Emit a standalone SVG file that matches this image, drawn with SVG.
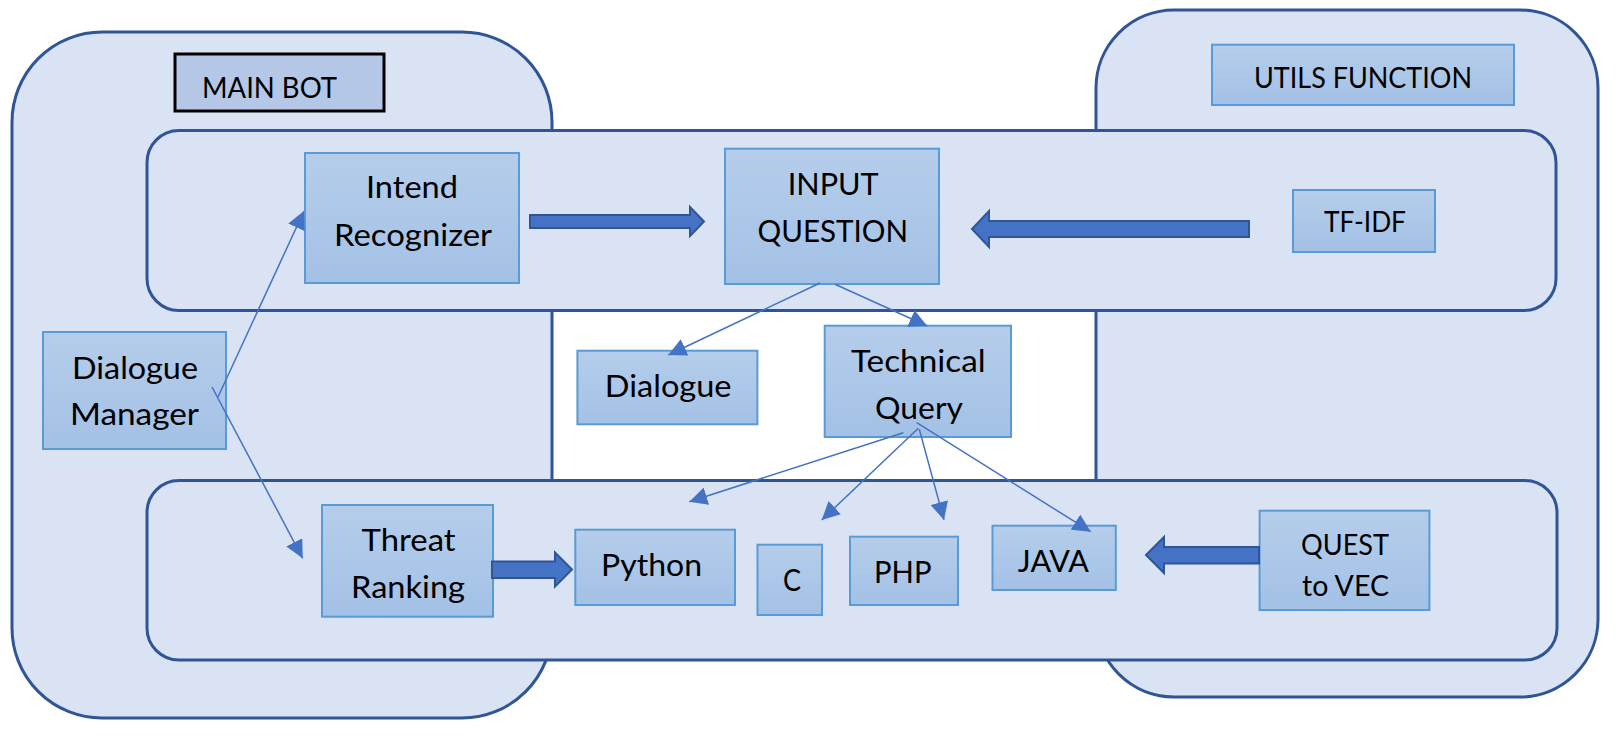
<svg xmlns="http://www.w3.org/2000/svg" width="1624" height="737" viewBox="0 0 1624 737">
<defs>
<linearGradient id="boxfill" x1="0" y1="0" x2="0" y2="1">
<stop offset="0" stop-color="#b5cdea"/>
<stop offset="1" stop-color="#a3c1e6"/>
</linearGradient>
<marker id="tri" markerUnits="userSpaceOnUse" markerWidth="18" markerHeight="18" refX="18" refY="9" orient="auto" viewBox="0 0 18 18">
<path d="M0,0 L18,9 L0,18 z" fill="#4472c4"/>
</marker>
</defs>
<style>
.cont{fill:#dae3f3;stroke:#2f5597;stroke-width:3}
.box{fill:url(#boxfill);stroke:#5b9bd5;stroke-width:2}
.lbl{fill:#000;stroke:#000;stroke-width:3}
.t{font-family:Lato,"Noto Sans",sans-serif;font-size:31.5px;fill:#000}
.ts{font-family:Lato,"Noto Sans",sans-serif;font-size:28.8px;fill:#000}
.ln{stroke:#4472c4;stroke-width:1.5;fill:none;marker-end:url(#tri)}
.big{fill:#4472c4;stroke:#2f5597;stroke-width:2;stroke-linejoin:miter}
</style>
<rect width="1624" height="737" fill="#ffffff"/>
<g id="containers">
<rect id="main-bot-area" class="cont" x="12" y="32" width="540" height="686" rx="90" ry="90"/>
<rect id="utils-area" class="cont" x="1096" y="10" width="502" height="687" rx="78" ry="78"/>
<rect id="top-band" class="cont" x="147" y="130.5" width="1409" height="180" rx="32" ry="32"/>
<rect id="bottom-band" class="cont" x="147" y="480.5" width="1410" height="179.5" rx="32" ry="32"/>
</g>
<g id="main-bot">
<rect x="175" y="54" width="209" height="57" fill="#b4c7e7" stroke="#000" stroke-width="3"/>
<text class="ts" x="202" y="97.7" textLength="135" lengthAdjust="spacingAndGlyphs">MAIN BOT</text>
</g>
<g id="utils-function">
<rect class="box" x="1212" y="44.7" width="302" height="60.3"/>
<text class="ts" x="1254" y="88" textLength="218" lengthAdjust="spacingAndGlyphs">UTILS FUNCTION</text>
</g>
<g id="intend-recognizer">
<rect class="box" x="305" y="153" width="214" height="130"/>
<text class="t" x="366" y="198.3" textLength="92" lengthAdjust="spacingAndGlyphs">Intend</text>
<text class="t" x="334" y="245.5" textLength="158" lengthAdjust="spacingAndGlyphs">Recognizer</text>
</g>
<g id="input-question">
<rect class="box" x="725" y="148.7" width="214" height="135.3"/>
<text class="t" x="787.7" y="195" textLength="91" lengthAdjust="spacingAndGlyphs">INPUT</text>
<text class="t" x="757.5" y="242.3" textLength="150.5" lengthAdjust="spacingAndGlyphs">QUESTION</text>
</g>
<g id="tf-idf">
<rect class="box" x="1293" y="190" width="142" height="62"/>
<text class="ts" x="1324" y="231.7" textLength="82" lengthAdjust="spacingAndGlyphs">TF-IDF</text>
</g>
<g id="dialogue-manager">
<rect class="box" x="43" y="332" width="183" height="117"/>
<text class="t" x="72" y="378.7" textLength="126" lengthAdjust="spacingAndGlyphs">Dialogue</text>
<text class="t" x="70" y="425.3" textLength="129" lengthAdjust="spacingAndGlyphs">Manager</text>
</g>
<g id="dialogue">
<rect class="box" x="577.4" y="350.7" width="180" height="73.6"/>
<text class="t" x="604.8" y="397.3" textLength="126.7" lengthAdjust="spacingAndGlyphs">Dialogue</text>
</g>
<g id="technical-query">
<rect class="box" x="824.7" y="325.7" width="186.3" height="111.3"/>
<text class="t" x="851" y="372.3" textLength="134.6" lengthAdjust="spacingAndGlyphs">Technical</text>
<text class="t" x="875" y="419.3" textLength="88" lengthAdjust="spacingAndGlyphs">Query</text>
</g>
<g id="threat-ranking">
<rect class="box" x="322" y="505" width="171" height="111.7"/>
<text class="t" x="361.6" y="550.7" textLength="94" lengthAdjust="spacingAndGlyphs">Threat</text>
<text class="t" x="351" y="597.7" textLength="114" lengthAdjust="spacingAndGlyphs">Ranking</text>
</g>
<g id="python">
<rect class="box" x="575.3" y="529.7" width="159.7" height="75.3"/>
<text class="t" x="601" y="575.7" textLength="101" lengthAdjust="spacingAndGlyphs">Python</text>
</g>
<g id="c">
<rect class="box" x="757.5" y="544.7" width="64.5" height="70.3"/>
<text class="t" x="783" y="590.7" textLength="18" lengthAdjust="spacingAndGlyphs">C</text>
</g>
<g id="php">
<rect class="box" x="850" y="536.7" width="108" height="68.3"/>
<text class="t" x="874" y="583.3" textLength="57.5" lengthAdjust="spacingAndGlyphs">PHP</text>
</g>
<g id="java">
<rect class="box" x="992.5" y="525.7" width="123.3" height="64.3"/>
<text class="t" x="1017.8" y="571.7" textLength="71.2" lengthAdjust="spacingAndGlyphs">JAVA</text>
</g>
<g id="quest-to-vec">
<rect class="box" x="1259.6" y="510.7" width="169.8" height="99.3"/>
<text class="ts" x="1301" y="555" textLength="88" lengthAdjust="spacingAndGlyphs">QUEST</text>
<text class="ts" x="1302" y="596" textLength="87" lengthAdjust="spacingAndGlyphs">to VEC</text>
</g>
<g id="connectors">
<line class="ln" x1="218" y1="397" x2="304" y2="211"/>
<line class="ln" x1="212" y1="387" x2="302.7" y2="558.3"/>
<line class="ln" x1="820" y1="283" x2="668.3" y2="355"/>
<line class="ln" x1="835" y1="284.3" x2="927.3" y2="326"/>
<line class="ln" x1="903.3" y1="432.7" x2="689.3" y2="501.7"/>
<line class="ln" x1="918.3" y1="428.3" x2="821.7" y2="520"/>
<line class="ln" x1="919.3" y1="429.3" x2="944" y2="520"/>
<line class="ln" x1="916.7" y1="422.7" x2="1090.7" y2="531.7"/>
<polygon class="big" points="530,215 690,215 690,207 704,221.5 690,236 690,228 530,228"/>
<polygon class="big" points="1249,221 989,221 989,211 972,229 989,247 989,237 1249,237"/>
<polygon class="big" points="492,561.5 555,561.5 555,552.5 572,569.5 555,586.5 555,578 492,578"/>
<polygon class="big" points="1259,547 1164,547 1164,537 1146,555 1164,573 1164,563.5 1259,563.5"/>
</g>
</svg>
